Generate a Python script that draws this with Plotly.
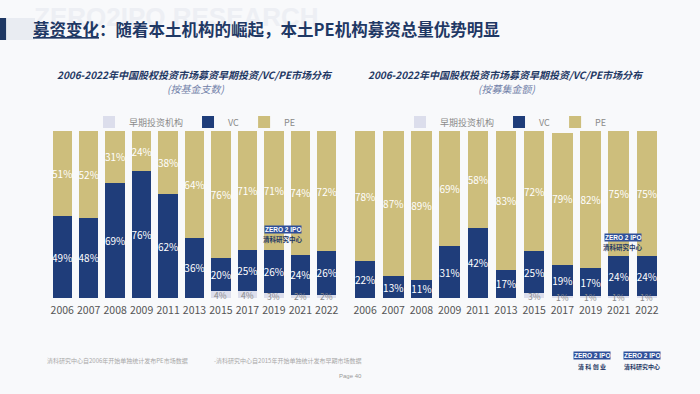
import plotly.graph_objects as go

years = ["2006", "2007", "2008", "2009", "2011", "2013", "2015", "2017", "2019", "2021", "2022"]

# Left: by number of funds
left_early = [0, 0, 0, 0, 0, 0, 4, 4, 3, 2, 2]
left_vc = [49, 48, 69, 76, 62, 36, 20, 25, 26, 24, 26]
left_pe = [51, 52, 31, 24, 38, 64, 76, 71, 71, 74, 72]

# Right: by fundraising amount
right_early = [0, 0, 0, 0, 0, 0, 3, 1, 1, 1, 1]
right_vc = [22, 13, 11, 31, 42, 17, 25, 19, 17, 24, 24]
right_pe = [78, 87, 89, 69, 58, 83, 72, 79, 82, 75, 75]

series_names = ["早期投资机构", "VC", "PE"]

C_EARLY = "#DCDEEC"
C_VC = "#1F3D7A"
C_PE = "#CDBE7C"
NAVY = "#1F3864"
FONT = "Noto Sans CJK SC"

fig = go.Figure()


def add_chart(early, vc, pe, xa, ya, legend):
    for name, vals, col in [
        (series_names[0], early, C_EARLY),
        (series_names[1], vc, C_VC),
        (series_names[2], pe, C_PE),
    ]:
        is_early = name == series_names[0]
        fig.add_trace(go.Bar(
            x=years, y=vals, name=name, marker_color=col, marker_line_width=0,
            text=None if is_early else [f"{v}%" for v in vals],
            textposition="inside", insidetextanchor="middle", textangle=0,
            constraintext="none",
            textfont=dict(color="white", size=10, family=FONT),
            xaxis=xa, yaxis=ya, legend=legend, hoverinfo="skip",
        ))
    # early-stage labels (category axes take the category index for annotations)
    for i, v in enumerate(early):
        if v > 0:
            fig.add_annotation(x=i, y=v / 2, xref=xa, yref=ya, text=f"{v}%", showarrow=False,
                               font=dict(size=8.5, color="#8A8A8A", family=FONT))


add_chart(left_early, left_vc, left_pe, "x", "y", "legend")
add_chart(right_early, right_vc, right_pe, "x2", "y2", "legend2")

ydom = [1 - 298 / 394, 1 - 131 / 394]
legend_common = dict(orientation="h", xanchor="center", y=1 - 122 / 394, yanchor="middle",
                     font=dict(size=9, color="#8A8A8A", family=FONT), bgcolor="rgba(0,0,0,0)",
                     traceorder="normal")
fig.update_layout(
    width=700, height=394,
    margin=dict(l=0, r=0, t=0, b=0),
    paper_bgcolor="#F8F9FB", plot_bgcolor="rgba(0,0,0,0)",
    barmode="stack", bargap=0.27,
    font=dict(family=FONT),
    legend=dict(x=195 / 700, **legend_common),
    legend2=dict(x=506 / 700, **legend_common),
    showlegend=True,
)
for ax, dom, anc in [("xaxis", [49 / 700, 340 / 700], "y"), ("xaxis2", [351 / 700, 661 / 700], "y2")]:
    fig.update_layout({ax: dict(domain=dom, anchor=anc, type="category", tickmode="linear", tick0=0, dtick=1,
                                tickangle=0, showgrid=False, zeroline=False, showline=False, ticks="",
                                automargin=False, ticklabelstandoff=4,
                                tickfont=dict(size=10.5, color="#555555", family=FONT))})
for ax, anc in [("yaxis", "x"), ("yaxis2", "x2")]:
    fig.update_layout({ax: dict(domain=ydom, anchor=anc, range=[0, 100], visible=False)})

# Watermark
fig.add_annotation(x=0.045, y=1.0, xref="paper", yref="paper", xanchor="left", yanchor="top",
                   text="<b>ZERO2IPO RESEARCH</b>", showarrow=False,
                   font=dict(size=26, color="#EDEFF4", family="Liberation Sans"))

# Header decorations
fig.add_shape(type="rect", xref="paper", yref="paper", x0=0, x1=0.009, y0=1 - 40 / 394, y1=1 - 18 / 394,
              fillcolor=NAVY, line_width=0, layer="below")
fig.add_shape(type="rect", xref="paper", yref="paper", x0=0.009, x1=0.05, y0=1 - 40 / 394, y1=1 - 18 / 394,
              fillcolor="#E9ECF2", line_width=0, layer="below")
fig.add_annotation(x=31 / 700, y=1 - 29 / 394, xref="paper", yref="paper", xanchor="left", yanchor="middle",
                   text="<b><u>募资变化</u>：随着本土机构的崛起，本土PE机构募资总量优势明显</b>",
                   showarrow=False, font=dict(size=16.5, color=NAVY, family=FONT))

# Chart titles
for cx, sub in [(195, "(按基金支数)"), (506, "(按募集金额)")]:
    fig.add_annotation(x=cx / 700, y=1 - 75 / 394, xref="paper", yref="paper", xanchor="center", yanchor="middle",
                       text="<b><i>2006-2022年中国股权投资市场募资早期投资/VC/PE市场分布</i></b>",
                       showarrow=False, font=dict(size=10, color=NAVY, family=FONT))
    fig.add_annotation(x=cx / 700, y=1 - 88 / 394, xref="paper", yref="paper", xanchor="center", yanchor="middle",
                       text=f"<i>{sub}</i>", showarrow=False,
                       font=dict(size=10, color="#7080A8", family=FONT))

# In-chart logos
for lx, ly in [(283, 235), (623, 243)]:
    fig.add_annotation(x=lx / 700, y=1 - (ly - 6) / 394, xref="paper", yref="paper", xanchor="center",
                       yanchor="middle", text="<b>ZERO 2 IPO</b>", showarrow=False,
                       font=dict(size=6.5, color="white", family="Liberation Sans"),
                       bgcolor="#2F4F9A", borderpad=0)
    fig.add_annotation(x=lx / 700, y=1 - (ly + 4) / 394, xref="paper", yref="paper", xanchor="center",
                       yanchor="middle", text="<b>清科研究中心</b>", showarrow=False,
                       font=dict(size=6.5, color=NAVY, family=FONT))

# Footer
fig.add_annotation(x=45 / 700, y=1 - 360 / 394, xref="paper", yref="paper", xanchor="left", yanchor="middle",
                   text="清科研究中心自2006年开始单独统计发布PE市场数据", showarrow=False,
                   font=dict(size=6, color="#A8A8A8", family=FONT))
fig.add_annotation(x=212 / 700, y=1 - 360 / 394, xref="paper", yref="paper", xanchor="left", yanchor="middle",
                   text="-清科研究中心自2015年开始单独统计发布早期市场数据", showarrow=False,
                   font=dict(size=6, color="#A8A8A8", family=FONT))
fig.add_annotation(x=350 / 700, y=1 - 376 / 394, xref="paper", yref="paper", xanchor="center", yanchor="middle",
                   text="Page 40", showarrow=False,
                   font=dict(size=6, color="#999999", family="Liberation Sans"))
for lx, sub in [(592, "清 科 创 业"), (642, "清科研究中心")]:
    fig.add_annotation(x=lx / 700, y=1 - 355 / 394, xref="paper", yref="paper", xanchor="center",
                       yanchor="middle", text="<b>ZERO 2 IPO</b>", showarrow=False,
                       font=dict(size=6.5, color="white", family="Liberation Sans"),
                       bgcolor="#2F4F9A", borderpad=0)
    fig.add_annotation(x=lx / 700, y=1 - 366 / 394, xref="paper", yref="paper", xanchor="center",
                       yanchor="middle", text=f"<b>{sub}</b>", showarrow=False,
                       font=dict(size=6, color=NAVY, family=FONT))

# remove the default page margin so the figure sits at the window's top-left corner
fig.write_html("out.html", config={"displayModeBar": False},
               post_script="document.body.style.margin='0';")
